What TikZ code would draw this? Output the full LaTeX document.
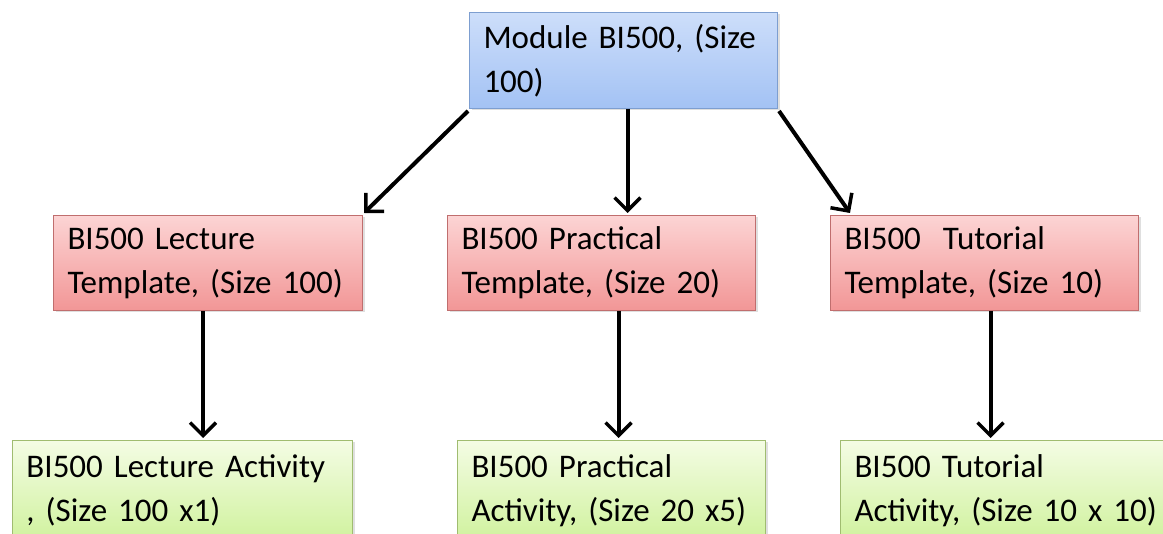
\documentclass[tikz,border=0pt]{standalone}
\usepackage{fontspec}
\setmainfont[WordSpace=0.75]{Carlito}
\usetikzlibrary{arrows.meta,shadows}
\definecolor{bluetop}{RGB}{205,222,250}
\definecolor{bluebot}{RGB}{163,194,244}
\definecolor{blueline}{RGB}{125,158,208}
\definecolor{redtop}{RGB}{252,212,212}
\definecolor{redbot}{RGB}{242,150,150}
\definecolor{redline}{RGB}{192,110,110}
\definecolor{greentop}{RGB}{244,252,228}
\definecolor{greenbot}{RGB}{208,242,158}
\definecolor{greenline}{RGB}{160,188,112}
\tikzset{
  box/.style={rectangle, anchor=north west, inner xsep=14pt, inner ysep=0pt,
    align=left, font=\fontsize{33}{44}\selectfont, text=black,
    line width=1pt, drop shadow={opacity=0.25, shadow xshift=2pt, shadow yshift=-2pt}},
  bluebox/.style={box, draw=blueline, top color=bluetop, bottom color=bluebot},
  redbox/.style={box, draw=redline, top color=redtop, bottom color=redbot},
  greenbox/.style={box, draw=greenline, top color=greentop, bottom color=greenbot},
  arr/.style={line width=4pt, -{Straight Barb[length=13pt,width=26pt,line width=3.5pt]}}
}
\begin{document}
\begin{tikzpicture}[x=1pt,y=-1pt]
\useasboundingbox (0,0) rectangle (1163,534);
\clip (0,0) rectangle (1163,534);
\node[bluebox, minimum width=308pt, minimum height=96pt, text width=280pt] (top) at (469,12) {Module BI500, (Size\\100)};
\node[redbox, minimum width=309pt, minimum height=95pt, text width=281pt] (lt) at (53,215) {BI500 Lecture\\Template, (Size 100)};
\node[redbox, minimum width=308pt, minimum height=95pt, text width=280pt] (pt) at (447,215) {BI500 Practical\\Template, (Size 20)};
\node[redbox, minimum width=308pt, minimum height=95pt, text width=280pt] (tt) at (830,215) {BI500 \ Tutorial\\Template, (Size 10)};
\node[greenbox, minimum width=340pt, minimum height=100pt, text width=312pt, inner xsep=13pt] (la) at (12,440) {BI500 Lecture Activity\\, (Size 100 x1)};
\node[greenbox, minimum width=308pt, minimum height=100pt, text width=280pt] (pa) at (457,440) {BI500 Practical\\Activity, (Size 20 x5)};
\node[greenbox, minimum width=340pt, minimum height=100pt, text width=312pt] (ta) at (840,440) {BI500 Tutorial\\Activity, (Size 10 x 10)};
\draw[arr] ([xshift=-1pt,yshift=-2pt]top.south west) -- ([xshift=1pt,yshift=2pt]lt.north east);
\draw[arr] ([xshift=4pt]top.south) -- ([xshift=4pt,yshift=2pt]top.south |- pt.north);
\draw[arr] ([xshift=1pt,yshift=-2pt]top.south east) -- ([xshift=20pt,yshift=2pt]tt.north west);
\draw[arr] ([xshift=-5pt]lt.south) -- ([xshift=-5pt,yshift=2pt]lt.south |- la.north);
\draw[arr] ([xshift=17pt]pt.south) -- ([xshift=17pt,yshift=2pt]pt.south |- pa.north);
\draw[arr] ([xshift=6pt]tt.south) -- ([xshift=6pt,yshift=2pt]tt.south |- ta.north);
\end{tikzpicture}
\end{document}
